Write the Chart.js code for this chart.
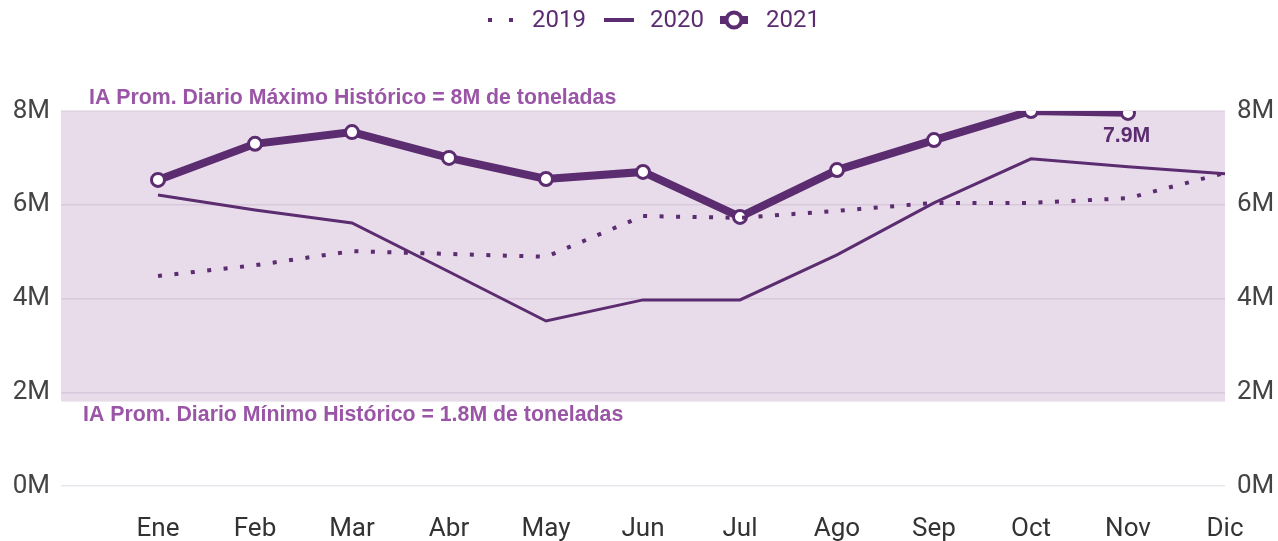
<!DOCTYPE html>
<html>
<head>
<meta charset="utf-8">
<script src="https://cdn.jsdelivr.net/npm/chart.js@4/dist/chart.umd.min.js"></script>
<style>
  html, body { margin: 0; padding: 0; background: #fff; }
  #wrap { width: 1278px; height: 541px; position: relative; }
</style>
</head>
<body>
<div id="wrap"><canvas id="myChart" width="1278" height="541"></canvas></div>
<script>
/* data */
var months = ['', 'Ene', 'Feb', 'Mar', 'Abr', 'May', 'Jun', 'Jul', 'Ago', 'Sep', 'Oct', 'Nov', 'Dic'];
var y2019 = [null, 4.48, 4.71, 5.01, 4.95, 4.89, 5.76, 5.72, 5.87, 6.04, 6.04, 6.14, 6.68];
var y2020 = [null, 6.21, 5.89, 5.61, 4.57, 3.52, 3.97, 3.97, 4.93, 6.04, 6.98, 6.81, 6.66];
var y2021 = [null, 6.53, 7.30, 7.55, 7.00, 6.55, 6.70, 5.74, 6.74, 7.38, 8.00, 7.96, null];
var yTicks = [0, 2, 4, 6, 8];
var bandMax = 8, bandMin = 1.8;
var maxLabel = 'IA Prom. Diario Máximo Histórico = 8M de toneladas';
var minLabel = 'IA Prom. Diario Mínimo Histórico = 1.8M de toneladas';
var lastLabel = '7.9M';

var purple = '#5b2c6f';
var labelPurple = '#9a55a6';

/* band + annotations + legend */
var bandPlugin = {
  id: 'band',
  beforeDraw: function (chart) {
    var c = chart.ctx, a = chart.chartArea, y = chart.scales.y;
    c.save();
    c.fillStyle = '#e8dcea';
    c.fillRect(a.left, y.getPixelForValue(bandMax), a.right - a.left,
      y.getPixelForValue(bandMin) - y.getPixelForValue(bandMax));
    c.restore();
  },
  afterDatasetsDraw: function (chart) {
    var c = chart.ctx, y = chart.scales.y;
    c.save();
    c.font = 'bold 21.3px "Liberation Sans", Arial, sans-serif';
    c.fillStyle = labelPurple;
    c.textAlign = 'left';
    c.textBaseline = 'middle';
    c.fillText(maxLabel, 89, y.getPixelForValue(bandMax) - 13);
    c.fillText(minLabel, 83, y.getPixelForValue(bandMin) + 13);

    // value label on last 2021 point
    var meta = chart.getDatasetMeta(2);
    var pt = meta.data[11];
    c.fillStyle = purple;
    c.fillText(lastLabel, pt.x - 25, pt.y + 23);

    // legend
    var cy = 20;
    c.font = '24px Roboto, sans-serif';
    c.fillStyle = purple;
    c.strokeStyle = purple;
    c.lineCap = 'butt';
    c.fillRect(488, cy - 2, 4, 4);
    c.fillRect(509, cy - 2, 4, 4);
    c.fillText('2019', 532, cy + 1);
    c.lineWidth = 4;
    c.beginPath(); c.moveTo(604, cy); c.lineTo(634, cy); c.stroke();
    c.fillText('2020', 650, cy + 1);
    c.lineWidth = 8;
    c.beginPath(); c.moveTo(720, cy); c.lineTo(748, cy); c.stroke();
    c.beginPath(); c.arc(734, cy, 7.5, 0, Math.PI * 2);
    c.fillStyle = '#fff'; c.fill();
    c.lineWidth = 4; c.stroke();
    c.fillStyle = purple;
    c.fillText('2021', 766, cy + 1);
    c.restore();
  }
};

var tickFont = { family: 'Roboto', size: 26 };

var ctx = document.getElementById('myChart').getContext('2d');
new Chart(ctx, {
  type: 'line',
  data: {
    labels: months,
    datasets: [
      {
        label: '2019',
        data: y2019,
        borderColor: purple,
        borderWidth: 4,
        borderDash: [4, 12.5],
        pointRadius: 0,
        tension: 0,
      },
      {
        label: '2020',
        data: y2020,
        borderColor: purple,
        borderWidth: 3,
        pointRadius: 0,
        tension: 0,
      },
      {
        label: '2021',
        data: y2021,
        borderColor: purple,
        borderWidth: 8,
        pointRadius: 6.5,
        pointBorderWidth: 3,
        pointBackgroundColor: '#fff',
        pointBorderColor: purple,
        tension: 0,
      },
    ],
  },
  options: {
    responsive: false,
    animation: false,
    layout: { padding: { top: 111, bottom: 0, left: 0, right: 0 } },
    plugins: { legend: { display: false }, tooltip: { enabled: false } },
    scales: {
      x: {
        offset: false,
        grid: { display: false, drawTicks: false },
        border: { display: false },
        ticks: { color: '#333', font: tickFont, padding: 28, maxRotation: 0, autoSkip: false },
        afterFit: function (s) { s.height = 55; },
      },
      y: {
        position: 'left',
        min: 0, max: 8,
        afterBuildTicks: function (s) { s.ticks = yTicks.map(function (v) { return { value: v }; }); },
        grid: { color: 'rgba(110,70,120,0.13)', drawTicks: false, lineWidth: 1.5 },
        border: { display: false },
        ticks: { color: '#444', font: tickFont, padding: 11, callback: function (v) { return v + 'M'; } },
        afterFit: function (s) { s.width = 61; },
      },
      y2: {
        position: 'right',
        min: 0, max: 8,
        afterBuildTicks: function (s) { s.ticks = yTicks.map(function (v) { return { value: v }; }); },
        grid: { display: false, drawTicks: false },
        border: { display: false },
        ticks: { color: '#444', font: tickFont, padding: 12, callback: function (v) { return v + 'M'; } },
        afterFit: function (s) { s.width = 53; },
      },
    },
  },
  plugins: [bandPlugin],
});
</script>
</body>
</html>
